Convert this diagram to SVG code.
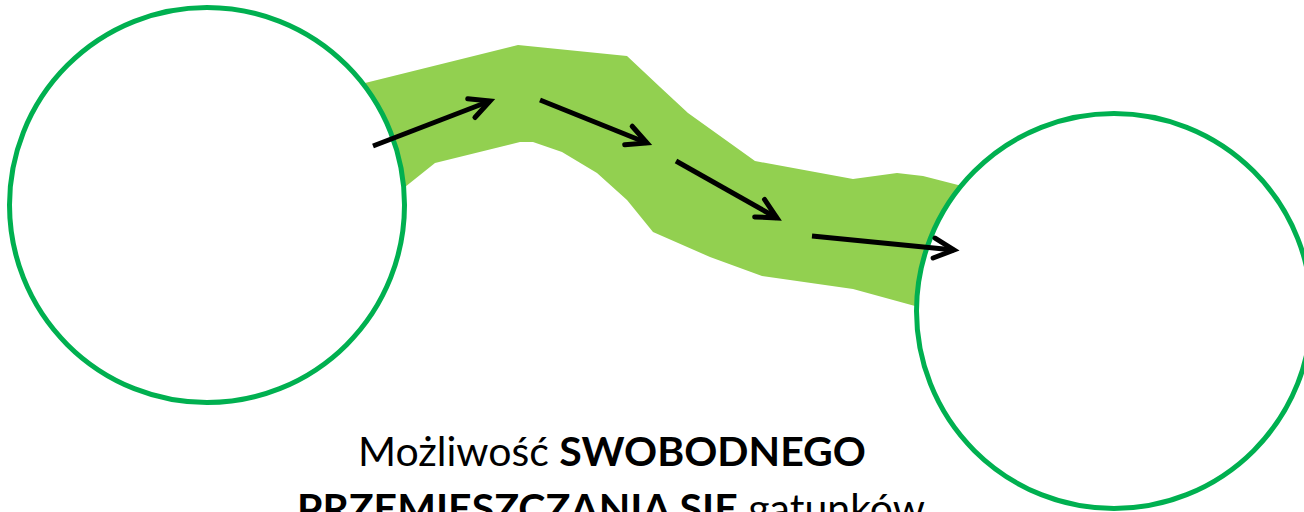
<svg xmlns="http://www.w3.org/2000/svg" width="1304" height="512" viewBox="0 0 1304 512">
  <style>
    .habitat { fill: #FFFFFF; stroke: #00B050; stroke-width: 5; }
    .corridor { fill: #92D050; stroke: none; }
    .arrow { fill: none; stroke: #000000; stroke-width: 5; marker-end: url(#head); }
    .label { font-family: Lato, "Liberation Sans", sans-serif; font-size: 41px; fill: #000000; }
    .b { font-weight: bold; }
  </style>
  <defs>
    <marker id="head" markerUnits="userSpaceOnUse" markerWidth="30" markerHeight="30" refX="0" refY="0" orient="auto" overflow="visible">
      <path d="M -20 -10 L 0 0 L -20 10" fill="none" stroke="#000000" stroke-width="5" stroke-linecap="round" stroke-linejoin="miter"/>
    </marker>
  </defs>

  <g id="corridor">
    <polygon class="corridor" points="365,83 518,45 627,56 660,87 688,113 755,161 853,179 897,173 923,176 962,186 960,320 915,306 853,289 762,276 710,257 653,232 627,200 597,173 562,152 533,142 520,142 435,163 405,187 395,200"/>
  </g>

  <g id="habitat-left">
    <circle class="habitat" cx="207" cy="205" r="197.5"/>
  </g>
  <g id="habitat-right">
    <circle class="habitat" cx="1114" cy="311" r="197.5"/>
  </g>

  <g id="connectors">
    <path class="arrow" d="M 373 146 L 490 101"/>
    <path class="arrow" d="M 540 100 L 647 143"/>
    <path class="arrow" d="M 676 161 L 777 218"/>
    <path class="arrow" d="M 812 236 L 954 250"/>
  </g>

  <g id="caption">
    <text class="label" x="612" y="466" text-anchor="middle">Możliwość <tspan class="b">SWOBODNEGO</tspan></text>
    <text class="label" x="611" y="523" text-anchor="middle"><tspan class="b">PRZEMIESZCZANIA SIĘ</tspan> gatunków</text>
  </g>
</svg>
